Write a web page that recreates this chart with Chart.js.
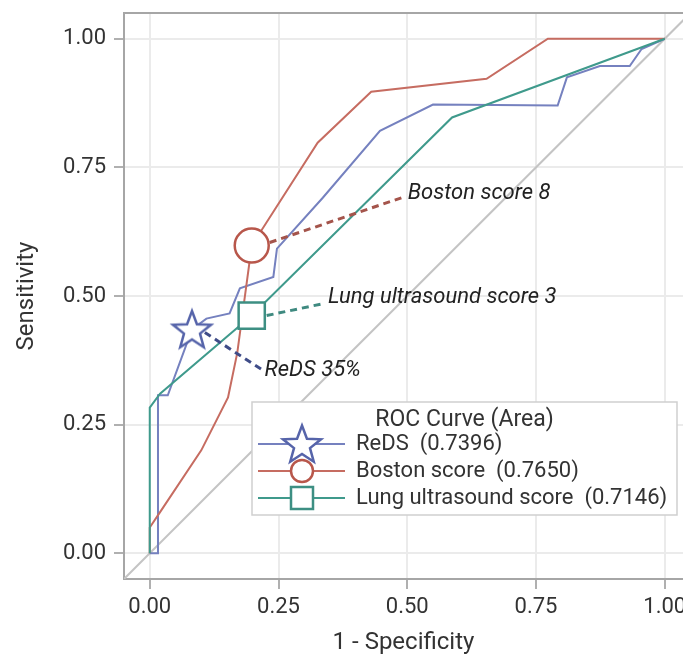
<!DOCTYPE html>
<html>
<head>
<meta charset="utf-8">
<script src="https://cdn.jsdelivr.net/npm/chart.js@4/dist/chart.umd.min.js"></script>
<style>
  html, body { margin: 0; padding: 0; background: #fff; overflow: hidden; }
  #wrap { width: 683px; height: 660px; }
</style>
</head>
<body>
<div id="wrap"><canvas id="c" width="683" height="660"></canvas></div>
<script>
// ---------------- data ----------------
const seriesNames = ['ReDS', 'Boston score', 'Lung ultrasound score'];
const seriesAUC = [0.7396, 0.7650, 0.7146];
const legendTitle = 'ROC Curve (Area)';

const redsX = [0, 0.016, 0.016, 0.035, 0.082, 0.110, 0.155, 0.175, 0.240, 0.247, 0.336, 0.447, 0.550, 0.792, 0.810, 0.874, 0.932, 0.955, 1.0];
const redsY = [0, 0, 0.307, 0.307, 0.435, 0.456, 0.466, 0.515, 0.537, 0.592, 0.691, 0.821, 0.872, 0.870, 0.925, 0.947, 0.947, 0.980, 1.0];

const bostonX = [0, 0, 0.020, 0.100, 0.152, 0.170, 0.198, 0.326, 0.430, 0.654, 0.773, 1.0];
const bostonY = [0, 0.050, 0.080, 0.200, 0.303, 0.390, 0.598, 0.798, 0.897, 0.922, 1.0, 1.0];

const lungX = [0, 0, 0.020, 0.198, 0.587, 1.0];
const lungY = [0, 0.283, 0.310, 0.462, 0.847, 1.0];

const diagX = [-0.05, 1.05];
const diagY = [-0.05, 1.05];

// optimal cut-off points (ReDS 35%, Boston score 8, Lung ultrasound score 3)
const cutoffLabels = ['ReDS 35%', 'Boston score 8', 'Lung ultrasound score 3'];
const cutoffX = [0.082, 0.198, 0.198];
const cutoffY = [0.435, 0.598, 0.462];

const xTicks = [0, 0.25, 0.5, 0.75, 1.0];
const yTicks = [0, 0.25, 0.5, 0.75, 1.0];
const xTitle = '1 - Specificity';
const yTitle = 'Sensitivity';

// ---------------- styles ----------------
const FONT = 'Roboto';
const colLine = ['#7581bf', '#c66c61', '#3f9a8c'];
const colMark = ['#5664aa', '#b8574b', '#3d8f83'];
const colDash = ['#3f4c88', '#a4544b', '#3f8a80'];

// annotation geometry (in data units): dashed leader start/end, text anchor
const annoLines = [
  { i: 0, from: [0.107, 0.429], to: [0.219, 0.356], text: [0.223, 0.355] },
  { i: 1, from: [0.233, 0.604], to: [0.489, 0.691], text: [0.501, 0.699] },
  { i: 2, from: [0.227, 0.462], to: [0.336, 0.485], text: [0.346, 0.497] }
];

function zip(xs, ys) { return xs.map((x, k) => ({ x: x, y: ys[k] })); }

function makeStar(color, R) {
  const s = Math.ceil(R * 2 + 6);
  const cv = document.createElement('canvas');
  cv.width = s; cv.height = s;
  const g = cv.getContext('2d');
  drawStar(g, s / 2, s / 2 + 1.5, R, color);
  return cv;
}
function drawStar(g, cx, cy, R, color) {
  const r = R * 0.42;
  g.beginPath();
  for (let k = 0; k < 10; k++) {
    const a = -Math.PI / 2 + k * Math.PI / 5;
    const rr = (k % 2 === 0) ? R : r;
    const px = cx + rr * Math.cos(a), py = cy + rr * Math.sin(a);
    if (k === 0) g.moveTo(px, py); else g.lineTo(px, py);
  }
  g.closePath();
  g.fillStyle = '#fff';
  g.fill();
  g.lineWidth = 2.5;
  g.strokeStyle = color;
  g.lineJoin = 'miter';
  g.stroke();
}
const starImg = makeStar(colMark[0], 20);

function drawMarker(g, type, cx, cy) {
  g.save();
  g.lineWidth = 2.5;
  if (type === 0) {
    drawStar(g, cx, cy + 1.5, 20, colMark[0]);
  } else if (type === 1) {
    g.beginPath(); g.arc(cx, cy, 11, 0, Math.PI * 2);
    g.fillStyle = '#fff'; g.fill(); g.strokeStyle = colMark[1]; g.stroke();
  } else {
    g.beginPath(); g.rect(cx - 11, cy - 11, 22, 22);
    g.fillStyle = '#fff'; g.fill(); g.strokeStyle = colMark[2]; g.stroke();
  }
  g.restore();
}

const extras = {
  id: 'extras',
  afterDraw(chart) {
    const g = chart.ctx;
    const xs = chart.scales.x, ys = chart.scales.y;
    const ca = chart.chartArea;
    // top border of frame
    g.save();
    g.strokeStyle = '#a6a6a6';
    g.lineWidth = 2;
    g.beginPath(); g.moveTo(ca.left - 1, ca.top); g.lineTo(chart.width, ca.top); g.stroke();
    g.restore();

    // annotations
    annoLines.forEach(a => {
      g.save();
      g.setLineDash([7, 5]);
      g.lineWidth = 3;
      g.strokeStyle = colDash[a.i];
      g.beginPath();
      g.moveTo(xs.getPixelForValue(a.from[0]), ys.getPixelForValue(a.from[1]));
      g.lineTo(xs.getPixelForValue(a.to[0]), ys.getPixelForValue(a.to[1]));
      g.stroke();
      g.restore();
      g.save();
      g.font = 'italic 22px ' + FONT;
      g.fillStyle = '#222';
      g.textAlign = 'left';
      g.textBaseline = 'middle';
      g.fillText(cutoffLabels[a.i], xs.getPixelForValue(a.text[0]), ys.getPixelForValue(a.text[1]));
      g.restore();
    });

    // legend box
    const L = { x: 252, y: 402, w: 425, h: 113 };
    g.save();
    g.fillStyle = '#fff';
    g.fillRect(L.x, L.y, L.w, L.h);
    g.strokeStyle = '#cfcfcf';
    g.lineWidth = 1.5;
    g.strokeRect(L.x, L.y, L.w, L.h);
    g.font = '23px ' + FONT;
    g.fillStyle = '#333';
    g.textBaseline = 'middle';
    g.textAlign = 'center';
    g.fillText(legendTitle, L.x + L.w / 2, L.y + 18);
    g.font = '22px ' + FONT;
    const rowsY = [L.y + 42, L.y + 69, L.y + 96];
    seriesNames.forEach((nm, k) => {
      const yy = rowsY[k];
      g.strokeStyle = colLine[k];
      g.lineWidth = 2;
      g.beginPath(); g.moveTo(L.x + 6, yy); g.lineTo(L.x + 93, yy); g.stroke();
      drawMarker(g, k, L.x + 50, yy);
      g.fillStyle = '#333';
      g.textAlign = 'left';
      g.fillText(nm + '  (' + seriesAUC[k].toFixed(4) + ')', L.x + 104, yy);
    });
    g.restore();
  }
};

const lineDs = (k, xs, ys) => ({
  label: seriesNames[k], data: zip(xs, ys), showLine: true,
  borderColor: colLine[k], borderWidth: 2, pointRadius: 0, tension: 0, order: 3 - k
});

const noPad = s => { s.paddingLeft = 0; s.paddingRight = 0; s.paddingTop = 0; s.paddingBottom = 0; };

new Chart(document.getElementById('c'), {
  type: 'scatter',
  data: {
    datasets: [
      { label: 'diag', data: zip(diagX, diagY), showLine: true, borderColor: '#c4c4c4', borderWidth: 2, pointRadius: 0, order: 10 },
      lineDs(1, bostonX, bostonY),
      lineDs(0, redsX, redsY),
      lineDs(2, lungX, lungY),
      { label: 'cut-offs', data: zip(cutoffX, cutoffY), showLine: false, order: 0,
        pointStyle: [starImg, 'circle', 'rect'],
        pointRadius: [20, 17, 18.5],
        pointBorderWidth: 2.5,
        pointBackgroundColor: '#fff',
        pointBorderColor: colMark }
    ]
  },
  options: {
    responsive: false,
    animation: false,
    events: [],
    layout: { autoPadding: false, padding: { top: 13, right: 0, left: 0, bottom: 0 } },
    plugins: { legend: { display: false }, tooltip: { enabled: false } },
    scales: {
      x: {
        type: 'linear', min: -0.05, max: 1.0354,
        afterBuildTicks: s => { s.ticks = xTicks.map(v => ({ value: v })); },
        afterFit: s => { s.height = 81; noPad(s); },
        ticks: { callback: v => Number(v).toFixed(2), font: { family: FONT, size: 22 }, color: '#333', padding: 5, maxRotation: 0, autoSkip: false },
        grid: { color: '#ebebeb', lineWidth: 2, tickLength: 10, tickColor: '#b0b0b0', tickWidth: 2 },
        border: { display: true, color: '#a6a6a6', width: 2 },
        title: { display: true, text: xTitle, font: { family: FONT, size: 24 }, color: '#333', padding: { top: 0, bottom: 2.5 } }
      },
      y: {
        type: 'linear', min: -0.05, max: 1.05,
        afterBuildTicks: s => { s.ticks = yTicks.map(v => ({ value: v })); },
        afterFit: s => { s.width = 124; noPad(s); },
        ticks: { callback: v => Number(v).toFixed(2), font: { family: FONT, size: 22 }, color: '#333', padding: 8, autoSkip: false },
        grid: { color: '#ebebeb', lineWidth: 2, tickLength: 10, tickColor: '#b0b0b0', tickWidth: 2 },
        border: { display: true, color: '#a6a6a6', width: 2 },
        title: { display: true, text: yTitle, font: { family: FONT, size: 24 }, color: '#333', padding: { top: 12.5, bottom: 0 } }
      }
    }
  },
  plugins: [extras]
});
</script>
</body>
</html>
